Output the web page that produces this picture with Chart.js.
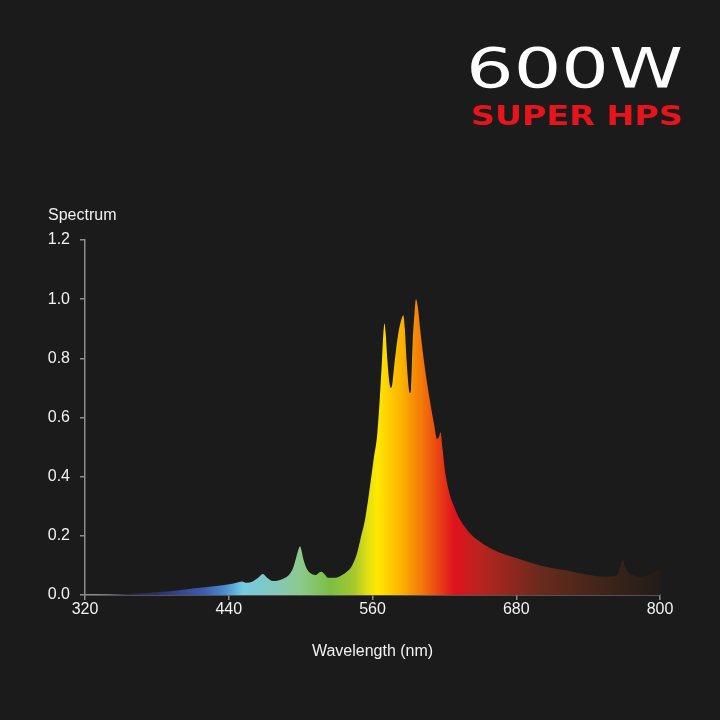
<!DOCTYPE html>
<html lang="en">
<head>
    <meta charset="UTF-8">
    <title>600W Super HPS Spectrum</title>
    <script src="https://cdn.jsdelivr.net/npm/chart.js@4.4.0/dist/chart.umd.min.js"></script>
    <style>
        html, body {
            margin: 0;
            padding: 0;
            background: #1b1b1b;
        }
        .chart-box {
            position: relative;
            width: 720px;
            height: 720px;
        }
    </style>
</head>
<body>
    <div class="chart-box">
        <canvas id="spectrum-chart"></canvas>
    </div>

    <script>
        // Spectrum (wavelength in nm, relative power)
        const wavelengths = [320, 340, 360, 380, 400, 420, 435, 443, 448, 451, 455, 460, 465, 468.5, 472, 477, 482, 487,
            491, 494, 496.5, 498.5, 499.5, 500.5, 502.5, 505, 509, 513, 515.5, 517.5, 520, 523, 528, 534, 539, 543, 547,
            550, 554, 558, 561, 564, 566, 568, 569, 570, 571, 572.5, 574.3, 575.4, 576.5, 578, 580, 582, 584, 585.7, 587,
            588.5, 590.5, 591.3, 592.2, 593.5, 595, 596.3, 597.8, 600, 604, 608, 611.5, 613.8, 615.5, 616.8, 618.3, 620.5, 624.5,
            628, 633, 640, 648, 660, 680, 700, 719, 741, 755, 762, 765, 767, 768.8, 770.5, 773, 776, 783, 792, 800];
        const spectrum = [0, 0.001, 0.004, 0.009, 0.017, 0.026, 0.033, 0.038, 0.043, 0.046, 0.041, 0.046, 0.06, 0.071, 0.058, 0.047, 0.05, 0.058,
            0.072, 0.095, 0.13, 0.158, 0.165, 0.155, 0.118, 0.09, 0.072, 0.068, 0.076, 0.079, 0.07, 0.058, 0.058, 0.066, 0.08, 0.1, 0.14,
            0.19, 0.26, 0.37, 0.46, 0.545, 0.66, 0.8, 0.88, 0.918, 0.885, 0.79, 0.712, 0.70, 0.712, 0.77, 0.84, 0.895, 0.93, 0.946, 0.9,
            0.79, 0.692, 0.683, 0.7, 0.85, 0.95, 1.0, 0.975, 0.89, 0.76, 0.655, 0.575, 0.528, 0.535, 0.55, 0.5, 0.42, 0.34,
            0.3, 0.255, 0.215, 0.185, 0.155, 0.125, 0.1, 0.085, 0.068, 0.062, 0.063, 0.075, 0.1, 0.118, 0.1, 0.08, 0.07, 0.062, 0.07, 0.09];

        const xTicks = [320, 440, 560, 680, 800];
        const yTicks = [0, 0.2, 0.4, 0.6, 0.8, 1.0, 1.2];

        // fill colours along the wavelength axis
        const gradStops = [320, 380, 420, 437, 452, 478, 500, 525, 545, 556, 564, 585, 605, 628, 650, 700, 760, 800];
        const gradColors = ['#1e1e28', '#2e2f68', '#3f5cb0', '#4c8ed0', '#74cbe2', '#84c8bc', '#8cc98c', '#7cbe44',
            '#a6c92c', '#e2e012', '#ffe800', '#fbb000', '#f06a0c', '#e0121c', '#b82420', '#6a2a1e', '#3a2418', '#221c18'];

        const textColor = '#f2f2f2';
        const axisColor = '#8c8c8c';
        const font = { family: "'Liberation Sans', Arial, sans-serif", size: 16 };

        function spectrumFill(context) {
            const chart = context.chart;
            const area = chart.chartArea;
            if (!area) return '#ffcc00';
            const xs = chart.scales.x;
            const g = chart.ctx.createLinearGradient(area.left, 0, area.right, 0);
            gradStops.forEach((wl, i) => {
                const pos = (xs.getPixelForValue(wl) - area.left) / (area.right - area.left);
                g.addColorStop(Math.min(1, Math.max(0, pos)), gradColors[i]);
            });
            return g;
        }

        // headline + "Spectrum" label
        const labelsPlugin = {
            id: 'labels',
            afterDraw(chart) {
                const ctx = chart.ctx;
                ctx.save();
                ctx.fillStyle = textColor;
                ctx.font = "16px 'Liberation Sans', Arial, sans-serif";
                ctx.textAlign = 'left';
                ctx.textBaseline = 'middle';
                ctx.fillText('Spectrum', 48, 216);

                drawFitted(ctx, '600W', "55px 'DejaVu Sans', sans-serif", '#ffffff', 683, 87, 217);
                drawFitted(ctx, 'SUPER HPS', "bold 27px 'DejaVu Sans', sans-serif", '#e8141c', 683, 125, 212);
                ctx.restore();
            }
        };

        function drawFitted(ctx, text, f, color, right, baseline, width) {
            ctx.save();
            ctx.font = f;
            ctx.fillStyle = color;
            ctx.textBaseline = 'alphabetic';
            ctx.textAlign = 'left';
            const w = ctx.measureText(text).width;
            const k = width / w;
            ctx.translate(right - width, baseline);
            ctx.scale(k, 1);
            ctx.fillText(text, 0, 0);
            ctx.restore();
        }

        const chart = new Chart(document.getElementById('spectrum-chart'), {
            type: 'line',
            data: {
                datasets: [{
                    label: 'Spectrum',
                    data: wavelengths.map((wl, i) => ({ x: wl, y: spectrum[i] })),
                    fill: 'origin',
                    backgroundColor: spectrumFill,
                    borderWidth: 0,
                    pointRadius: 0,
                    cubicInterpolationMode: 'monotone'
                }]
            },
            options: {
                responsive: true,
                maintainAspectRatio: false,
                animation: false,
                layout: {
                    padding: { left: 0, right: 60, top: 240, bottom: 0 }
                },
                plugins: {
                    legend: { display: false },
                    tooltip: { enabled: false }
                },
                scales: {
                    x: {
                        type: 'linear',
                        min: 320,
                        max: 800,
                        afterBuildTicks: scale => { scale.ticks = xTicks.map(v => ({ value: v })); },
                        afterFit: scale => { scale.height = 125; },
                        ticks: { color: textColor, font: font, padding: 0, maxRotation: 0 },
                        grid: { drawOnChartArea: false, drawTicks: true, tickLength: 5, color: axisColor, lineWidth: 1.5 },
                        border: { color: axisColor, width: 1.5 },
                        title: {
                            display: true,
                            text: 'Wavelength (nm)',
                            color: textColor,
                            font: font,
                            padding: { top: 0, bottom: 59 }
                        }
                    },
                    y: {
                        min: 0,
                        max: 1.2,
                        afterBuildTicks: scale => { scale.ticks = yTicks.map(v => ({ value: v })); },
                        afterFit: scale => { scale.width = 85; },
                        ticks: { color: textColor, font: font, padding: 10, callback: v => v.toFixed(1) },
                        grid: { drawOnChartArea: false, drawTicks: true, tickLength: 5, color: axisColor, lineWidth: 1.5 },
                        border: { color: axisColor, width: 1.5 }
                    }
                }
            },
            plugins: [labelsPlugin]
        });
    </script>
</body>
</html>
